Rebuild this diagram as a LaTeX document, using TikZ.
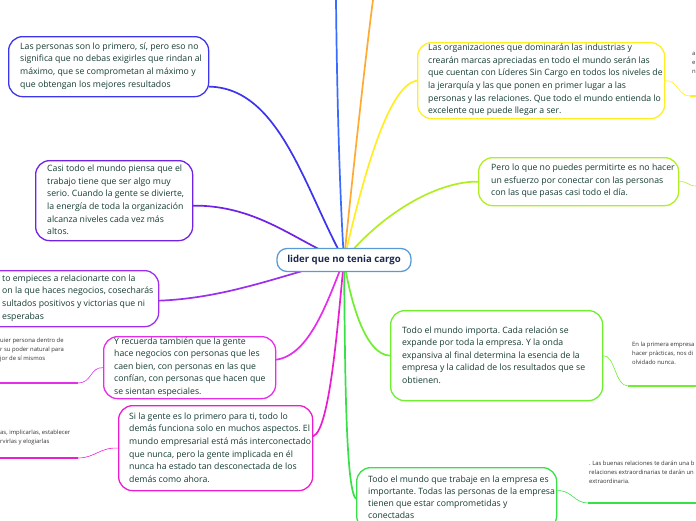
\documentclass[tikz,border=0pt]{standalone}
\usepackage{fontspec}
\setmainfont{Open Sans}
\frenchspacing
\pgfdeclarelayer{bg}
\pgfsetlayers{bg,main}
\definecolor{txt}{HTML}{163D33}
\definecolor{roottxt}{HTML}{1B2A4E}
\definecolor{rootc}{HTML}{5B9BD5}
\definecolor{cA}{HTML}{3D35EE}
\definecolor{cTop}{HTML}{3A6BFF}
\definecolor{cOr}{HTML}{FFAA33}
\definecolor{cB}{HTML}{7022E6}
\definecolor{cC}{HTML}{9C2EF0}
\definecolor{cD}{HTML}{E42EEA}
\definecolor{cE}{HTML}{EA1ECF}
\definecolor{cF}{HTML}{FFEE22}
\definecolor{cG}{HTML}{B0EE22}
\definecolor{cH}{HTML}{70EE30}
\definecolor{cI}{HTML}{38E048}
\begin{document}
\begin{tikzpicture}[x=1pt,y=-1pt,
  box/.style={draw=#1, rounded corners=14pt, line width=1.3pt, fill=white,
    anchor=north west, inner sep=0pt},
  ttxt/.style={anchor=west, inner sep=0pt, text=txt, align=left,
    font=\fontsize{8.7}{12.6}\selectfont},
  link/.style={draw=#1, line width=1.7pt, line cap=round},
  leafln/.style={draw=#1, line width=0.6pt},
  uline/.style={draw=#1, line width=2pt},
  leaf/.style={anchor=base west, inner sep=0pt, text=black!80, align=left,
    font=\fontsize{5.9}{8.6}\selectfont}]
\useasboundingbox (0,0) rectangle (696,520);
\clip (0,0) rectangle (696,520);

\coordinate (rc) at (344,260);
\coordinate (topA) at (336,0);
\coordinate (topB) at (373,0);

% topic boxes
\node[box=cA, minimum width=200pt, minimum height=60pt] (n1) at (8,36) {};
\node[box=cB, minimum width=157pt, minimum height=80pt] (n2) at (35,160) {};
\node[box=cC, minimum width=190pt, minimum height=56pt] (n3) at (-32,270) {};
\node[box=cD, minimum width=172pt, minimum height=62pt] (n4) at (103,336) {};
\node[box=cE, minimum width=194pt, minimum height=85pt] (n5) at (118,405) {};
\node[box=cF, minimum width=247pt, minimum height=76pt] (n6) at (417,42) {};
\node[box=cG, minimum width=200pt, minimum height=48pt] (n7) at (478,157) {};
\node[box=cH, minimum width=212pt, minimum height=90pt] (n8) at (390,310) {};
\node[box=cI, minimum width=200pt, minimum height=62pt] (n9) at (356,467) {};

% topic texts
\node[ttxt] (n1t) at (20,66)
 {Las personas son lo primero, sí, pero eso no\\significa que no debas exigirles que rindan al\\máximo, que se comprometan al máximo y\\que obtengan los mejores resultados};
\node[ttxt] (n2t) at (47,200)
 {Casi todo el mundo piensa que el\\trabajo tiene que ser algo muy\\serio. Cuando la gente se divierte,\\la energía de toda la organización\\alcanza niveles cada vez más\\altos.};
\node[ttxt] (n3t) at (2,298)
 {to empieces a relacionarte con la\\on la que haces negocios, cosecharás\\sultados positivos y victorias que ni\\esperabas};
\node[ttxt] (n4t) at (114,367)
 {Y recuerda también que la gente\\hace negocios con personas que les\\caen bien, con personas en las que\\confían, con personas que hacen que\\se sientan especiales.};
\node[ttxt] (n5t) at (129,447.5)
 {Si la gente es lo primero para ti, todo lo\\demás funciona solo en muchos aspectos. El\\mundo empresarial está más interconectado\\que nunca, pero la gente implicada en él\\nunca ha estado tan desconectada de los\\demás como ahora.};
\node[ttxt] (n6t) at (428,80)
 {Las organizaciones que dominarán las industrias y\\crearán marcas apreciadas en todo el mundo serán las\\que cuentan con Líderes Sin Cargo en todos los niveles de\\la jerarquía y las que ponen en primer lugar a las\\personas y las relaciones. Que todo el mundo entienda lo\\excelente que puede llegar a ser.};
\node[ttxt] (n7t) at (491,181)
 {Pero lo que no puedes permitirte es no hacer\\un esfuerzo por conectar con las personas\\con las que pasas casi todo el día.};
\node[ttxt] (n8t) at (402,355)
 {Todo el mundo importa. Cada relación se\\expande por toda la empresa. Y la onda\\expansiva al final determina la esencia de la\\empresa y la calidad de los resultados que se\\obtienen.};
\node[ttxt, font=\fontsize{8.7}{12}\selectfont] (n9t) at (368,497)
 {Todo el mundo que trabaje en la empresa es\\importante. Todas las personas de la empresa\\tienen que estar comprometidas y\\conectadas};

% leaf texts
\node[leaf] (l4) at (0,360) {uier persona dentro de\\r su poder natural para\\jor de sí mismos};
\node[leaf] (l5) at (0,443) {as, implicarlas, establecer\\rvirlas y elogiarlas};
\node[leaf] (l6) at (692,73) {a\\e\\n};
\node[leaf] (l8) at (632,364) {En la primera empresa\\hacer prácticas, nos di\\olvidado nunca.};
\node[leaf] (l9) at (589,483) {. Las buenas relaciones te darán una b\\relaciones extraordinarias te darán un\\extraordinaria.};

\coordinate (u4a) at (78,383); \coordinate (u4b) at (0,383);
\coordinate (u5a) at (78,458); \coordinate (u5b) at (0,458);
\coordinate (u6a) at (690,96); \coordinate (u6b) at (696,96);
\coordinate (u7a) at (696,186);
\coordinate (u8a) at (628,386); \coordinate (u8b) at (696,386);
\coordinate (u9a) at (588,503); \coordinate (u9b) at (696,503);

\begin{pgfonlayer}{bg}
% leaf connectors
\draw[leafln=cD] (n4.west) .. controls (90,367) and (92,383) .. (u4a);
\draw[uline=cD] (u4a) -- (u4b);
\draw[leafln=cE] (n5.west) .. controls (100,447) and (95,458) .. (u5a);
\draw[uline=cE] (u5a) -- (u5b);
\draw[leafln=cF] (n6.east) .. controls (678,80) and (678,96) .. (u6a);
\draw[uline=cF] (u6a) -- (u6b);
\draw[leafln=cG] (n7.east) .. controls (688,181) and (688,186) .. (u7a);
\draw[leafln=cH] (n8.east) .. controls (615,355) and (615,386) .. (u8a);
\draw[uline=cH] (u8a) -- (u8b);
\draw[leafln=cI] ([yshift=8pt]n9.east) .. controls (572,490) and (574,503) .. (u9a);
\draw[uline=cI] (u9a) -- (u9b);

% main connectors
\draw[link=cTop] (topA) .. controls (337,100) and (340,200) .. (rc);
\draw[link=cOr] (topB) .. controls (365,60) and (350,200) .. (rc);
\draw[link=cA] ([yshift=-20pt]n1.east) .. controls (280,88) and (305,190) .. (rc);
\draw[link=cB] ([yshift=-5pt]n2.east) .. controls (260,205) and (300,245) .. (rc);
\draw[link=cC] ([yshift=-2pt]n3.east) .. controls (230,298) and (290,272) .. (rc);
\draw[link=cD] ([yshift=8pt]n4.east) .. controls (310,355) and (328,300) .. (rc);
\draw[link=cE] ([yshift=12pt]n5.east) .. controls (330,430) and (338,320) .. (rc);
\draw[link=cF] (n6.west) .. controls (385,85) and (358,200) .. (rc);
\draw[link=cG] (n7.west) .. controls (440,181) and (385,210) .. (rc);
\draw[link=cH] (n8.west) .. controls (365,355) and (350,300) .. (rc);
\draw[link=cI] (n9.west) .. controls (345,490) and (345,350) .. (rc);
\end{pgfonlayer}

\node[draw=rootc, line width=1.3pt, rounded corners=10pt, fill=white, text=roottxt,
  minimum width=134pt, minimum height=23pt, font=\fontsize{9.6}{12}\selectfont\bfseries] (root) at (rc)
  {lider que no tenia cargo};
\end{tikzpicture}
\end{document}
